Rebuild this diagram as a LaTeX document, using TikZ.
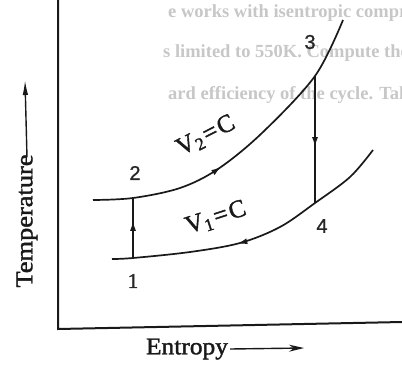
\documentclass[tikz,border=0pt]{standalone}
\usepackage{fontspec}
\setmainfont{Liberation Serif}
\newfontfamily\scanfont{Liberation Serif}[FakeBold=1.6]
\newfontfamily\digitfont{Liberation Sans}[FakeBold=1.0]
\usetikzlibrary{arrows.meta,decorations.markings}
\begin{document}
\begin{tikzpicture}[x=1pt,y=-1pt,
  ink/.style={draw=black!90},
  axisline/.style={ink, line width=2pt},
  curveline/.style={ink, line width=1.7pt},
  lbl/.style={font=\fontsize{20}{20}\selectfont\digitfont, text=black!85, inner sep=0pt},
  axlbl/.style={font=\fontsize{24}{24}\selectfont\scanfont, text=black!90, inner sep=0pt},
  vlbl/.style={font=\fontsize{25}{25}\selectfont\scanfont, text=black!90, inner sep=0pt},
  bgtext/.style={font=\fontsize{18.5}{18.5}\selectfont\bfseries, text=black!22, inner sep=0pt, anchor=base west},
  midarrow/.style={postaction={decorate}, decoration={markings,
     mark=at position #1 with {\arrow{Latex[length=10pt,width=6pt]}}}}
]
\useasboundingbox (0,0) rectangle (402,368);
% faint show-through text of the page
\begin{scope}
  \clip (0,0) rectangle (402,368);
  \node[bgtext] (bg1) at (168,17) {e works with isentropic compr};
  \node[bgtext] (bg2) at (163,57) {s limited to 550K. Compute the};
  \node[bgtext] (bg3) at (168,99) {ard efficiency of the cycle. Take};
\end{scope}
% axes
\coordinate (origin) at (58,329);
\coordinate (ytop) at (58,0);
\coordinate (xend) at (402,322);
\draw[axisline] (ytop) -- (origin) -- (xend);
% axis labels
\node[axlbl, rotate=90, xscale=1.1] (tlab) at (27,221) {Temperature};
\coordinate (ttip) at (25,80);
\draw[ink, line width=1.4pt, -{Latex[length=15pt,width=5.5pt]}] ([yshift=-3pt]tlab.east) -- (ttip);
\node[axlbl, xscale=1.06] (elab) at (187,349) {Entropy};
\coordinate (etip) at (304,348);
\draw[ink, line width=1.4pt, -{Stealth[length=15pt,width=7pt]}] ([xshift=2pt]elab.east) -- (etip);
% state points
\coordinate (p1) at (133,258);
\coordinate (p2) at (133,198);
\coordinate (p3) at (315,76);
\coordinate (p4) at (315,203);
% constant-volume curves
\draw[curveline, midarrow=0.41] plot[smooth, tension=0.55] coordinates
  {(93,200) (p2) (180,188) (218,169) (262,133) (p3) (343,20)};
\draw[curveline, midarrow=0.57] plot[smooth, tension=0.55] coordinates
  {(373,150) (350,177) (p4) (280,227) (240,243) (190,252) (p1) (112,259)};
% isentropic lines
\draw[curveline, midarrow=0.62] (p1) -- (p2);
\draw[curveline, midarrow=0.56] (p3) -- (p4);
% labels
\node[lbl, font=\fontsize{21}{21}\selectfont\scanfont] (l1) at (133,281) {1};
\node[lbl] (l2) at (135,173) {2};
\node[lbl] (l3) at (310,42) {3};
\node[lbl] (l4) at (322,226) {4};
\node[vlbl, rotate=27] (v2) at (206,136) {V\textsubscript{2}\kern2pt=\kern2pt C};
\node[vlbl, rotate=18] (v1) at (216,218) {V\textsubscript{1}\kern2pt=\kern2pt C};
\end{tikzpicture}
\end{document}
